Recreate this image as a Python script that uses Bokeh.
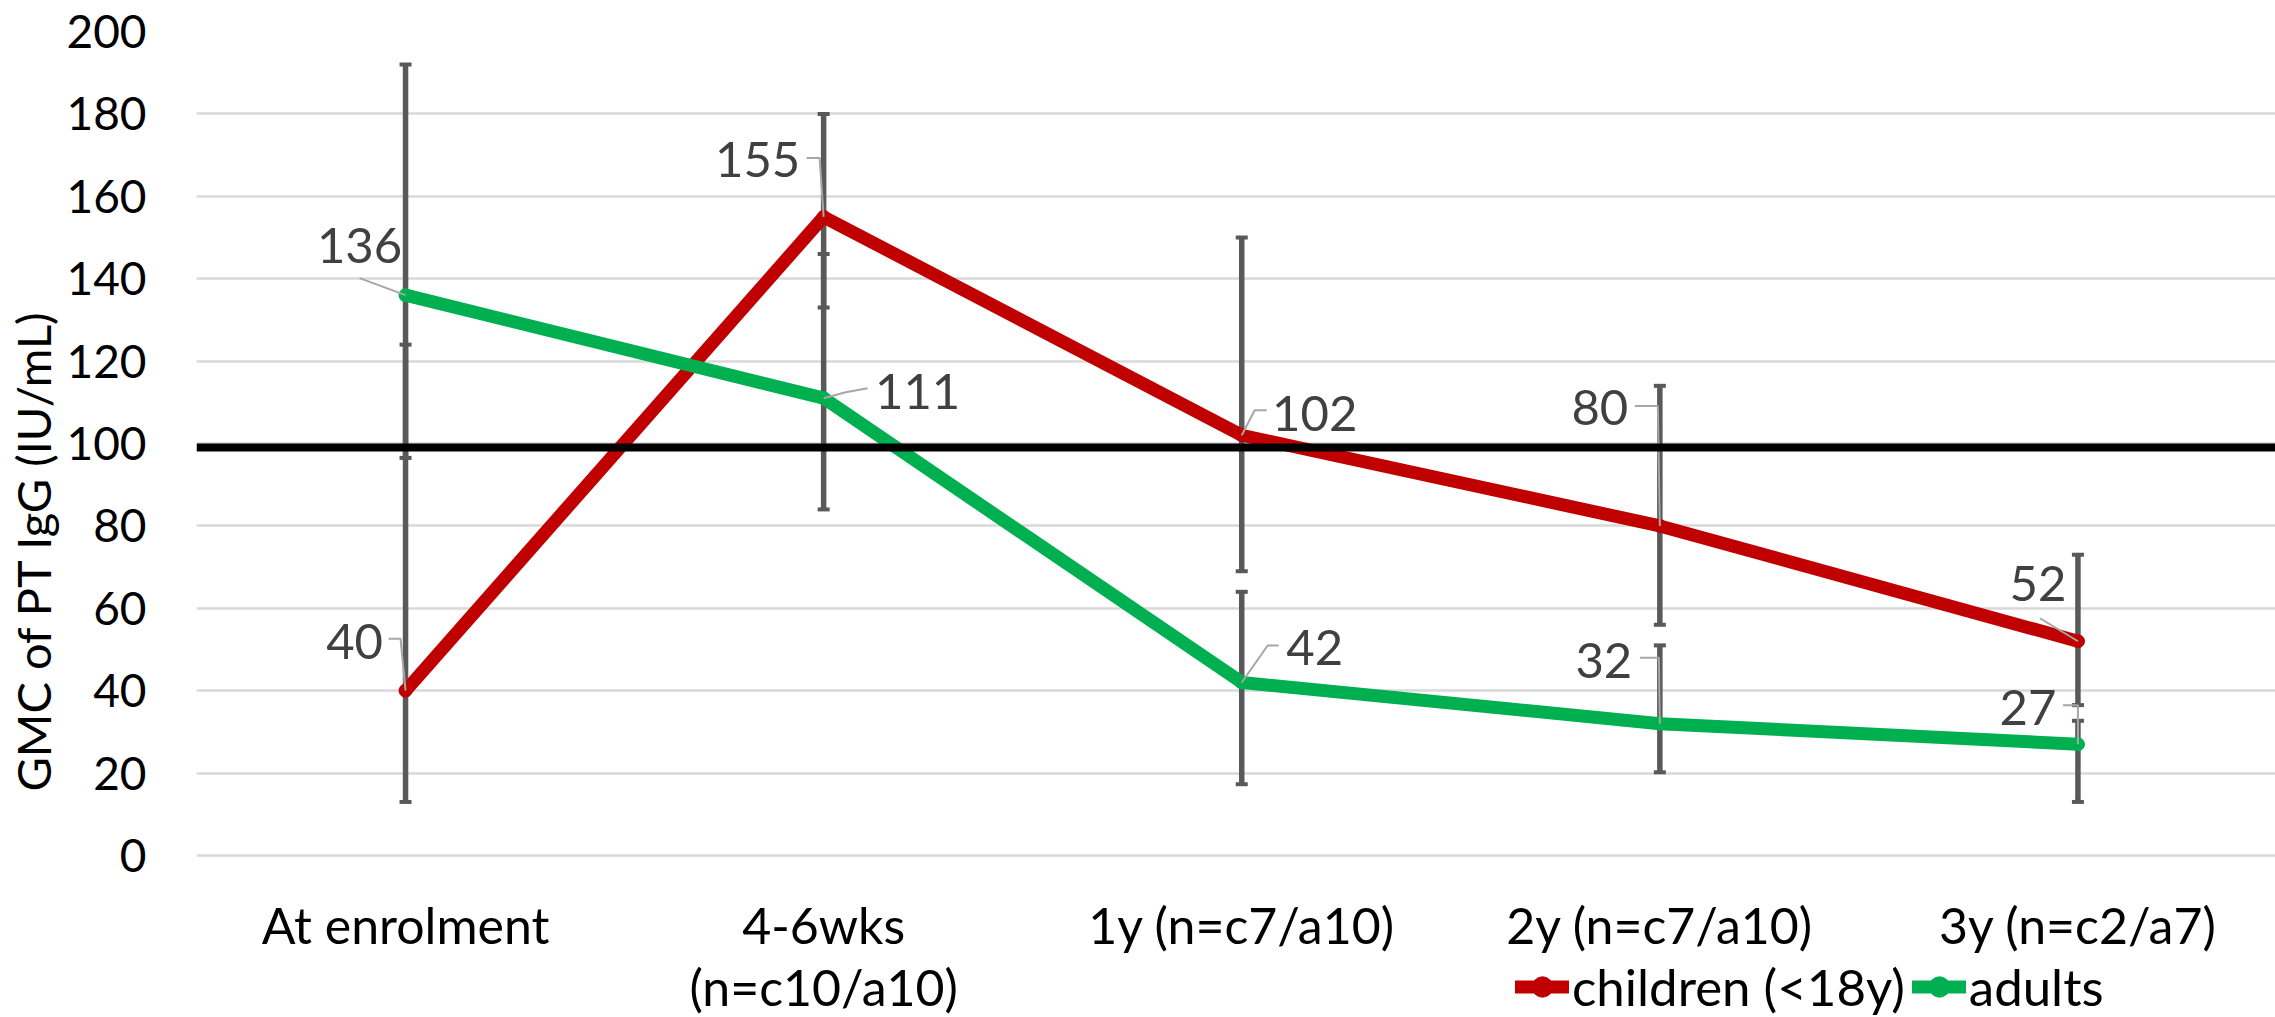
from bokeh.plotting import figure
from bokeh.models import Range1d, FixedTicker, Span, Legend, LegendItem, ColumnDataSource, Title
from bokeh.core.properties import value
from bokeh.embed import file_html
from bokeh.resources import INLINE

# ---------------- data ----------------
categories = ["At enrolment", "4-6wks\n(n=c10/a10)", "1y (n=c7/a10)", "2y (n=c7/a10)", "3y (n=c2/a7)"]
children_gmc = [40, 155, 102, 80, 52]
children_low = [13, 133, 69, 56, 36.5]
children_high = [124, 180, 150, 114, 73]
adults_gmc = [136, 111, 42, 32, 27]
adults_low = [96.5, 84, 17.3, 20.2, 13]
adults_high = [192, 146, 64, 51, 32.7]
threshold = 99
y_ticks = [0, 20, 40, 60, 80, 100, 120, 140, 160, 180, 200]
y_title = "GMC of PT IgG (IU/mL)"
series_names = ["children (<18y)", "adults"]

# ---------------- layout / style ----------------
FONT = "Lato"
W, H = 2275, 1017
LEFT, TOP = 194, 31
PLOT_H = 824            # height of the 0..200 value band in px
X0 = -0.5
XPX = 418.5             # px per category
X1 = X0 + (W - LEFT) / XPX
Y1 = 200
YPX = PLOT_H / Y1
Y0 = Y1 - (H - TOP) / YPX   # frame reaches down to the canvas bottom

RED = "#C00000"
GREEN = "#00B050"
ERR = "#595959"

# label offsets (screen px, +y down) and leader polylines (px from point)
child_lab_off = [(-51, -49), (-66, -57), (73, -22), (-60, -118), (-40, -58)]
adult_lab_off = [(-46, -50), (94, -7), (73, -35), (-56, -63), (-50, -37)]
child_leaders = [[(0, 0), (-5, -52), (-17, -52)],
                 [(0, 0), (-4, -59), (-17, -59)],
                 [(0, 0), (13, -25), (25, -25)],
                 [(0, 0), (-2, -120), (-13, -120), (-25, -120)],
                 [(0, 0), (-38, -23)]]
adult_leaders = [[(0, 0), (-46, -17)],
                 [(0, 0), (22, -6), (44, -10)],
                 [(0, 0), (26, -37), (37, -37)],
                 [(0, 0), (-1, -66), (-9, -66), (-20, -66)],
                 [(0, 0), (0, -39), (-2, -39), (-15, -39)]]

xs = list(range(len(categories)))

p = figure(width=W, height=H, output_backend="svg", toolbar_location=None,
           x_range=Range1d(X0, X1), y_range=Range1d(Y0, Y1),
           min_border_left=LEFT, min_border_right=0,
           min_border_top=TOP, min_border_bottom=0)
p.outline_line_color = None
p.background_fill_color = "white"
p.border_fill_color = "white"

p.xgrid.grid_line_color = None
p.ygrid.grid_line_color = "#D9D9D9"
p.ygrid.grid_line_width = 2.5

p.yaxis.ticker = FixedTicker(ticks=y_ticks)
p.yaxis.axis_line_color = None
p.yaxis.major_tick_line_color = None
p.yaxis.minor_tick_line_color = None
p.yaxis.major_label_text_font = FONT
p.yaxis.major_label_text_font_size = "46px"
p.yaxis.major_label_text_line_height = 1.0
p.yaxis.major_label_text_color = "black"
p.yaxis.major_label_standoff = 44

p.add_layout(Title(text=y_title, align="left", offset=226, standoff=5,
                   text_font=FONT, text_font_size="47px", text_font_style="normal",
                   text_line_height=1.0, text_color="black"), "left")

p.xaxis.visible = False

# category labels under the 0 line
line1 = [c.split("\n")[0] for c in categories]
line2 = [c.split("\n")[1] if "\n" in c else "" for c in categories]
p.text(x=xs, y=[0] * len(xs), text=line1, y_offset=69, text_align="center",
       text_baseline="alphabetic", text_font=value(FONT), text_font_size="50px",
       text_color="black")
p.text(x=xs, y=[0] * len(xs), text=line2, y_offset=131, text_align="center",
       text_baseline="alphabetic", text_font=value(FONT), text_font_size="50px",
       text_color="black")

# error bars
ex = xs + xs
elow = children_low + adults_low
ehigh = children_high + adults_high
p.segment(x0=ex, y0=elow, x1=ex, y1=ehigh, line_color=ERR, line_width=5.5)
p.scatter(x=ex + ex, y=elow + ehigh, marker="dash", size=12, line_width=4, line_color=ERR)

# series
rc = p.line(xs, children_gmc, line_color=RED, line_width=13, line_cap="round", line_join="round")
rcm = p.scatter(xs, children_gmc, size=13, color=RED)
ra = p.line(xs, adults_gmc, line_color=GREEN, line_width=13, line_cap="round", line_join="round")
ram = p.scatter(xs, adults_gmc, size=13, color=GREEN)

# threshold line
p.add_layout(Span(location=threshold, dimension="width", line_color="black", line_width=8))

# leader lines
lx, ly = [], []
for vals, leaders in ((children_gmc, child_leaders), (adults_gmc, adult_leaders)):
    for i, (v, pts) in enumerate(zip(vals, leaders)):
        lx.append([xs[i] + dx / XPX for dx, dy in pts])
        ly.append([v - dy / YPX for dx, dy in pts])
p.multi_line(xs=lx, ys=ly, line_color="#A6A6A6", line_width=2)

# data labels
lab = ColumnDataSource(dict(
    x=xs + xs,
    y=children_gmc + adults_gmc,
    t=[str(v) for v in children_gmc + adults_gmc],
    dx=[o[0] for o in child_lab_off + adult_lab_off],
    dy=[o[1] for o in child_lab_off + adult_lab_off],
))
p.text(x="x", y="y", text="t", x_offset="dx", y_offset="dy", source=lab,
       text_align="center", text_baseline="middle", text_font=value(FONT),
       text_font_size="49px", text_color="#404040")

legend = Legend(items=[LegendItem(label=series_names[0], renderers=[rc, rcm]),
                       LegendItem(label=series_names[1], renderers=[ra, ram])],
                orientation="horizontal", location=(1319, 0),
                padding=0, margin=0, spacing=7, label_standoff=3,
                glyph_width=54, glyph_height=51, label_height=51,
                label_text_font=FONT, label_text_font_size="51px",
                label_text_line_height=1.0, label_text_color="black",
                border_line_color=None, background_fill_alpha=0)
p.add_layout(legend)

open("out.html", "w").write(file_html(p, INLINE))
